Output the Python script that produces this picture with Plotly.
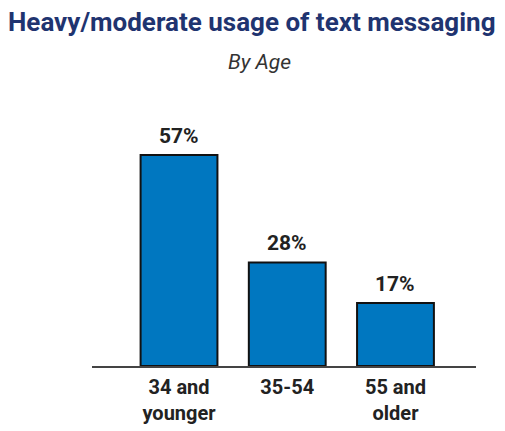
import plotly.graph_objects as go

categories = ["34 and<br>younger", "35-54", "55 and<br>older"]
values = [57, 28, 17]
value_labels = ["57%", "28%", "17%"]

FONT = "Roboto, Liberation Sans Narrow, sans-serif"

fig = go.Figure()
fig.add_trace(go.Bar(
    x=list(range(len(categories))),
    y=values,
    width=0.71,
    marker=dict(color="#0077C0", line=dict(color="#111111", width=2)),
    hoverinfo="skip",
))

for i, (v, lab) in enumerate(zip(values, value_labels)):
    fig.add_annotation(x=i, y=v, text=f"<b>{lab}</b>", showarrow=False,
                       yanchor="bottom", yshift=5,
                       font=dict(family=FONT, size=21, color="#222222"))

fig.add_annotation(text="<b>Heavy/moderate usage of text messaging</b>",
                   xref="paper", yref="paper", x=0.417, y=1.0, yshift=122,
                   xanchor="center", yanchor="middle", showarrow=False,
                   font=dict(family=FONT, size=26, color="#1F3470"))
fig.add_annotation(text="<i>By Age</i>",
                   xref="paper", yref="paper", x=0.435, y=1.0, yshift=82,
                   xanchor="center", yanchor="middle", showarrow=False,
                   font=dict(family=FONT, size=21, color="#333333"))

fig.update_layout(
    width=505, height=431,
    margin=dict(l=92, r=29, t=144, b=65, autoexpand=False),
    paper_bgcolor="white", plot_bgcolor="white",
    showlegend=False,
    xaxis=dict(range=[-0.804, 2.744], tickmode="array",
               tickvals=list(range(len(categories))),
               ticktext=[f"<b>{c}</b>" for c in categories],
               showline=True, linecolor="#444444", linewidth=2,
               showgrid=False, zeroline=False, ticks="",
               automargin=False, ticklabelstandoff=2,
               tickfont=dict(family=FONT, size=20, color="#222222")),
    yaxis=dict(range=[0, 60], visible=False, showgrid=False, zeroline=False,
               automargin=False),
)

fig.write_html("out.html")
